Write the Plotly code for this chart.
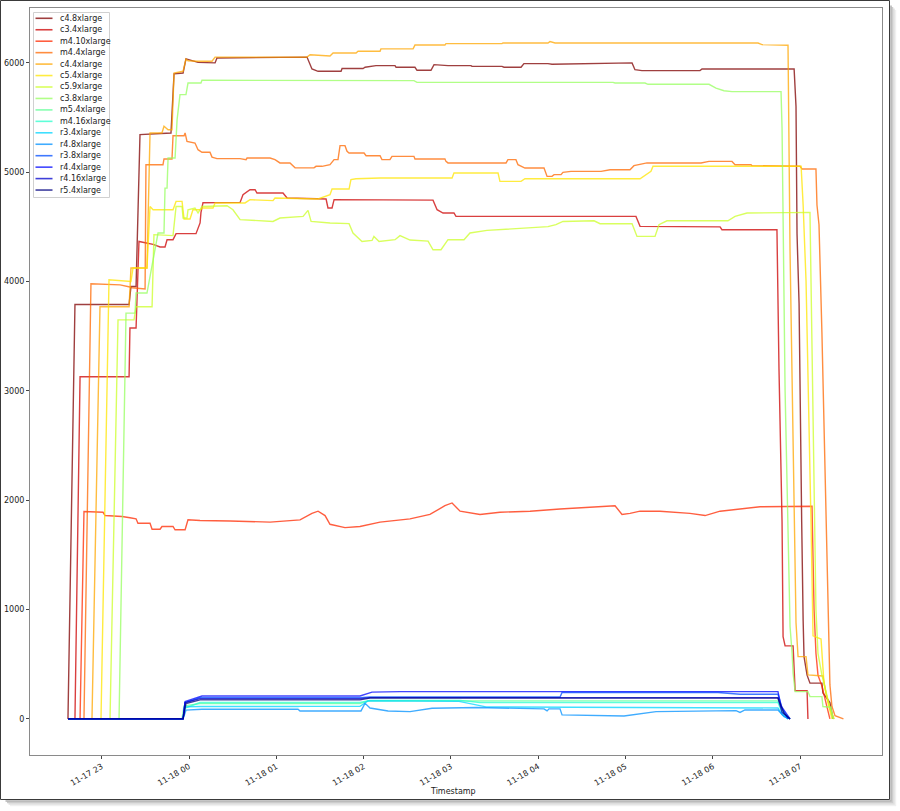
import datetime as dt
import plotly.graph_objects as go

# ---- data: (minutes after 2018-11-18 00:00, value) ----
base = dt.datetime(2018, 11, 18, 0, 0)

names = ["c4.8xlarge", "c3.4xlarge", "m4.10xlarge", "m4.4xlarge", "c4.4xlarge", "c5.4xlarge",
         "c5.9xlarge", "c3.8xlarge", "m5.4xlarge", "m4.16xlarge", "r3.4xlarge", "r4.8xlarge",
         "r3.8xlarge", "r4.4xlarge", "r4.16xlarge", "r5.4xlarge"]

c48 = [(-83.2, 0), (-78.4, 3790), (-41.2, 3790), (-39.9, 3955), (-36.4, 3955), (-33.7, 5344), (-12.4, 5359),
       (-10.3, 5900), (-4.1, 5907), (-2.1, 6036), (6.2, 6005), (17.9, 6000), (19.2, 6045), (81.1, 6053),
       (84.5, 5944), (88.7, 5923), (104.5, 5923), (105.2, 5948), (119.6, 5948), (121.0, 5960), (128.5, 5975),
       (141.6, 5975), (142.3, 5960), (155.3, 5960), (156.7, 5932), (166.3, 5932), (168.4, 5984), (178.0, 5975),
       (193.8, 5975), (194.5, 5968), (215.1, 5968), (216.5, 5960), (228.2, 5960), (230.2, 5993), (246.7, 5993),
       (249.5, 5988), (304.5, 6000), (306.5, 5938), (311.3, 5929), (351.2, 5929), (352.6, 5944), (415.9, 5944),
       (417.2, 5600), (417.9, 4437), (419.3, 3800), (420.0, 2850), (421.1, 1800), (422.1, 900), (422.7, 570),
       (424.8, 400), (426.8, 327), (435.0, 327), (435.7, 238), (440.5, 150), (442.6, 0)]

c34 = [(-83.2, 0), (-78.4, 0), (-74.9, 3130), (-41.2, 3130), (-40.6, 3575), (-36.4, 3575), (-34.4, 4367),
       (-24.7, 4340), (-19.9, 4316), (-16.5, 4316), (-15.1, 4383), (-11.0, 4383), (-8.9, 4438), (4.8, 4438),
       (7.6, 4536), (8.2, 4630), (9.6, 4721), (35.1, 4724), (37.1, 4795), (41.9, 4840), (45.4, 4840),
       (46.7, 4810), (64.6, 4810), (67.4, 4764), (94.2, 4755), (95.5, 4673), (98.3, 4673), (99.7, 4749),
       (167.7, 4745), (170.5, 4657), (174.6, 4627), (182.1, 4627), (183.5, 4596), (307.2, 4596), (310.0, 4505),
       (365.0, 4500), (366.3, 4474), (404.1, 4474), (405.5, 3200), (407.6, 1800), (408.3, 753), (409.7, 668),
       (415.2, 668), (415.9, 387), (416.6, 259), (424.8, 259), (425.4, 0)]

m410 = [(-83.2, 0), (-74.9, 0), (-72.2, 1897), (-59.1, 1890), (-57.7, 1860), (-46.0, 1851), (-40.6, 1840),
        (-36.4, 1830), (-35.1, 1790), (-26.8, 1790), (-25.4, 1735), (-19.9, 1735), (-18.6, 1760), (-11.0, 1760),
        (-9.6, 1730), (-2.7, 1730), (-0.7, 1821), (7.6, 1815), (28.2, 1810), (55.7, 1800), (76.3, 1820),
        (84.5, 1880), (88.7, 1900), (93.5, 1860), (96.9, 1780), (107.2, 1750), (117.5, 1760), (131.3, 1800),
        (151.9, 1830), (165.6, 1870), (175.9, 1950), (180.8, 1975), (186.3, 1900), (200.0, 1870), (213.7, 1890),
        (234.4, 1900), (255.0, 1920), (282.5, 1940), (292.8, 1950), (297.6, 1870), (303.1, 1880), (310.0, 1900),
        (323.7, 1900), (344.3, 1880), (354.7, 1860), (365.0, 1900), (378.7, 1920), (392.5, 1940), (428.2, 1945),
        (429.6, 1000), (430.9, 600), (432.3, 400), (435.0, 300), (437.8, 150), (440.5, 0)]

m44 = [(-83.2, 0), (-72.2, 0), (-67.4, 3980), (-47.4, 3970), (-40.6, 3950), (-39.2, 3944), (-30.2, 3932),
       (-29.6, 5069), (-17.9, 5069), (-17.2, 5121), (-11.7, 5121), (-11.0, 5334), (-3.4, 5334), (-2.7, 5359),
       (-1.4, 5282), (4.1, 5267), (6.2, 5206), (8.9, 5183), (14.4, 5183), (15.8, 5138), (19.2, 5124),
       (35.1, 5124), (39.2, 5115), (39.9, 5130), (55.7, 5130), (59.1, 5115), (62.5, 5085), (69.4, 5085),
       (72.9, 5040), (85.9, 5040), (87.3, 5054), (91.4, 5054), (96.9, 5069), (99.7, 5115), (102.4, 5115),
       (103.8, 5243), (107.2, 5243), (108.6, 5191), (110.0, 5176), (120.3, 5176), (121.7, 5151), (131.3, 5151),
       (132.6, 5115), (138.1, 5115), (139.5, 5145), (154.6, 5145), (155.3, 5121), (175.9, 5121), (176.6, 5099),
       (178.0, 5085), (217.9, 5085), (219.2, 5115), (224.7, 5115), (226.1, 5069), (230.9, 5038), (244.0, 5038),
       (246.1, 4962), (249.5, 4962), (250.9, 4978), (255.7, 4978), (257.0, 4999), (262.5, 5008), (283.2, 5008),
       (289.4, 5023), (303.1, 5023), (305.8, 5060), (314.8, 5085), (351.9, 5085), (357.4, 5099), (373.2, 5099),
       (375.3, 5069), (386.3, 5069), (386.9, 5060), (399.3, 5060), (402.0, 5054), (420.0, 5054), (421.4, 5029),
       (430.9, 5029), (431.6, 4700), (433.0, 4520), (435.0, 3536), (437.1, 2315), (439.1, 1290), (439.8, 600),
       (440.5, 311), (441.9, 113), (444.0, 30), (449.8, 0)]

c44 = [(-83.2, 0), (-66.7, 0), (-61.2, 3770), (-41.2, 3770), (-39.9, 4124), (-28.9, 4124), (-26.8, 5359),
       (-18.6, 5359), (-17.2, 5420), (-14.4, 5389), (-11.7, 5389), (-10.3, 5907), (-4.1, 5923), (-2.1, 6036),
       (-0.7, 6020), (5.5, 6015), (15.8, 6015), (17.9, 6053), (81.1, 6053), (83.2, 6075), (96.9, 6063),
       (99.0, 6090), (114.8, 6090), (116.2, 6106), (131.3, 6106), (131.9, 6128), (154.0, 6128), (155.3, 6163),
       (175.9, 6163), (176.6, 6176), (215.1, 6176), (215.8, 6182), (246.7, 6182), (248.1, 6195), (251.6, 6182),
       (291.4, 6182), (292.8, 6188), (310.0, 6188), (311.3, 6182), (391.1, 6182), (393.8, 6167), (404.1, 6167),
       (405.5, 6161), (411.7, 6161), (413.1, 4273), (414.5, 3000), (415.9, 1820), (417.2, 880), (418.6, 570),
       (424.1, 570), (425.4, 403), (435.7, 393), (437.8, 235), (440.5, 100), (443.3, 0)]

c54 = [(-83.2, 0), (-60.5, 0), (-55.0, 4017), (-39.9, 4000), (-38.5, 4124), (-28.9, 4124), (-26.8, 4687),
       (-24.7, 4657), (-11.0, 4657), (-8.9, 4733), (-4.8, 4733), (-3.4, 4572), (0.7, 4572), (2.7, 4657),
       (7.6, 4657), (9.6, 4673), (16.5, 4673), (17.9, 4719), (38.5, 4719), (41.9, 4749), (57.7, 4740),
       (59.1, 4764), (88.7, 4755), (96.9, 4795), (98.3, 4846), (110.0, 4846), (111.3, 4932), (114.8, 4940),
       (131.3, 4947), (180.8, 4947), (182.1, 4993), (212.4, 4993), (213.7, 4916), (228.2, 4916), (230.9, 4940),
       (310.0, 4940), (317.5, 5008), (318.9, 5054), (420.7, 5054), (422.1, 4700), (424.1, 4000), (426.1, 2800),
       (427.5, 1800), (428.9, 760), (434.4, 730), (436.4, 330), (439.1, 150), (441.9, 0)]

c59 = [(-83.2, 0), (-54.3, 0), (-48.8, 3650), (-37.8, 3650), (-36.4, 3770), (-25.4, 3770), (-24.1, 4429),
       (-11.0, 4420), (-8.9, 4687), (-4.8, 4687), (-4.1, 4581), (-1.4, 4581), (-0.7, 4657), (4.1, 4673),
       (6.2, 4627), (8.9, 4687), (26.1, 4694), (30.2, 4657), (35.1, 4566), (57.7, 4550), (62.5, 4581),
       (78.4, 4596), (81.8, 4651), (83.9, 4550), (96.9, 4536), (110.0, 4530), (112.7, 4444), (118.9, 4367),
       (125.8, 4376), (127.1, 4413), (130.6, 4367), (141.6, 4383), (145.0, 4420), (151.9, 4380), (164.3, 4370),
       (167.7, 4291), (173.2, 4291), (178.0, 4383), (189.0, 4383), (193.1, 4444), (204.8, 4468), (215.1, 4477),
       (220.6, 4483), (246.7, 4502), (252.2, 4520), (257.0, 4550), (278.4, 4556), (282.5, 4529), (304.5, 4529),
       (307.9, 4413), (320.3, 4413), (323.0, 4520), (328.5, 4556), (370.4, 4556), (375.3, 4596), (383.5, 4627),
       (426.8, 4633), (428.2, 3500), (429.6, 2000), (430.9, 1000), (432.3, 600), (435.0, 400), (437.8, 250),
       (440.5, 100), (443.3, 0)]

c38 = [(-83.2, 0), (-48.1, 0), (-43.3, 3711), (-37.1, 3711), (-36.4, 3895), (-28.9, 3895), (-21.3, 4444),
       (-17.2, 4444), (-16.5, 4855), (-15.1, 4855), (-14.4, 5130), (-9.6, 5130), (-8.2, 5481), (-6.2, 5710),
       (-2.1, 5710), (-0.7, 5816), (8.2, 5816), (8.9, 5841), (154.6, 5838), (156.7, 5822), (291.4, 5822),
       (292.8, 5816), (313.4, 5816), (315.5, 5804), (357.4, 5804), (362.2, 5770), (367.7, 5745), (373.2, 5737),
       (406.9, 5737), (407.6, 5400), (409.7, 3000), (411.7, 1800), (413.1, 845), (414.5, 600), (415.2, 418),
       (416.6, 250), (425.4, 250), (426.8, 204), (435.0, 204), (435.7, 113), (441.2, 107), (442.6, 0)]

m54 = [(-83.2, 0), (-4.8, 0), (-3.4, 120), (7.6, 140), (117.5, 140), (123.0, 165), (404.8, 165),
       (407.6, 80), (413.1, 0)]
m416 = [(-83.2, 0), (-4.1, 0), (-2.7, 100), (7.6, 150), (117.5, 150), (124.4, 170), (186.3, 170),
        (200.0, 150), (404.8, 150), (407.6, 60), (411.7, 0)]
r34 = [(-83.2, 0), (-4.1, 0), (-2.7, 110), (7.6, 113), (74.9, 113), (76.3, 115), (117.5, 115), (123.0, 165),
       (185.6, 160), (204.1, 110), (404.8, 100), (407.6, 40), (411.7, 0)]
r48 = [(-83.2, 0), (-4.1, 0), (-2.1, 80), (8.9, 89), (74.9, 89), (76.3, 73), (118.2, 73), (121.0, 143),
       (124.4, 100), (136.8, 73), (151.9, 67), (167.0, 98), (197.9, 104), (244.0, 92), (246.1, 73), (247.4, 92),
       (255.0, 92), (256.4, 37), (299.0, 27), (321.0, 67), (376.0, 76), (378.7, 60), (382.1, 82), (404.8, 82),
       (409.0, 20), (413.1, 0)]
r38 = [(-83.2, 0), (-4.1, 0), (-2.7, 150), (7.6, 195), (117.5, 195), (124.4, 200), (255.0, 200), (256.4, 241),
       (363.6, 241), (378.7, 226), (404.8, 226), (407.6, 100), (411.7, 0)]
r44 = [(-83.2, 0), (-4.1, 0), (-2.7, 160), (8.9, 210), (117.5, 210), (125.8, 245), (145.0, 250), (404.8, 250),
       (406.9, 120), (413.1, 0)]
r416 = [(-83.2, 0), (-4.1, 0), (-2.7, 150), (7.6, 185), (117.5, 185), (124.4, 195), (404.8, 195), (407.6, 60),
        (413.1, 0)]
r54 = [(-83.2, 0), (-4.1, 0), (-2.1, 140), (7.6, 174), (117.5, 174), (124.4, 190), (404.8, 190), (409.0, 50),
       (413.1, 0)]

series = [c48, c34, m410, m44, c44, c54, c59, c38, m54, m416, r34, r48, r38, r44, r416, r54]

# jet colormap sampled from top (dark red) to bottom (navy)
colors = ["#800000", "#cd0000", "#ff2900", "#ff6800", "#ffa700", "#ffe600", "#cdff29", "#97ff60",
          "#60ff97", "#29ffcd", "#00d5ff", "#0091ff", "#004dff", "#0008ff", "#0000cd", "#000080"]

yticks = [0, 1000, 2000, 3000, 4000, 5000, 6000]

FONT = "DejaVu Sans"
fig = go.Figure()
for name, pts, col in zip(names, series, colors):
    t = [base + dt.timedelta(minutes=p[0]) for p in pts]
    v = [p[1] for p in pts]
    fig.add_trace(go.Scatter(x=t, y=v, mode="lines", name=name,
                             line=dict(color=col, width=1.4), opacity=0.75, showlegend=False))

# plot area in pixels: x 30..882, y 8..755
W, H = 900, 811
L, R, T, B = 30, 18, 8, 56
pw, ph = W - L - R, H - T - B


def px(x):
    return (x - L) / pw


def py(y):
    return (H - B - y) / ph


shapes = []
ann = []
# custom legend
shapes.append(dict(type="rect", xref="paper", yref="paper", x0=px(33.5), x1=px(109.5), y0=py(197.5), y1=py(12.5),
                   line=dict(color="#d0d0d0", width=1), fillcolor="rgba(255,255,255,0.85)", layer="above"))
for i, (name, col) in enumerate(zip(names, colors)):
    yy = 18.3 + 11.45 * i
    shapes.append(dict(type="line", xref="paper", yref="paper", x0=px(35.5), x1=px(52.5), y0=py(yy), y1=py(yy),
                       line=dict(color=col, width=1.6), opacity=0.75, layer="above"))
    ann.append(dict(xref="paper", yref="paper", x=px(57.5), y=py(yy), text=name, showarrow=False,
                    xanchor="left", yanchor="middle", font=dict(family=FONT, size=8, color="#222")))

# x axis title
ann.append(dict(xref="paper", yref="paper", x=px(453), y=py(791), text="Timestamp", showarrow=False,
                xanchor="center", yanchor="middle", font=dict(family=FONT, size=8, color="#222")))

# outer screenshot frame with shadow
for k, a in enumerate([0.30, 0.20, 0.12, 0.06]):
    off = 1.5 + k * 1.5
    shapes.append(dict(type="path", xref="paper", yref="paper",
                       path=f"M {px(889.5 + off)},{py(4 + off)} L {px(889.5 + off)},{py(799.5 + off)} L {px(4 + off)},{py(799.5 + off)}",
                       line=dict(color=f"rgba(0,0,0,{a})", width=1.5)))
shapes.append(dict(type="rect", xref="paper", yref="paper", x0=px(0.5), x1=px(889.5), y0=py(799.5), y1=py(0.5),
                   line=dict(color="#3a3a3a", width=1)))

fig.update_layout(
    width=W, height=H, margin=dict(l=L, r=R, t=T, b=B, autoexpand=False),
    paper_bgcolor="white", plot_bgcolor="white",
    showlegend=False, shapes=shapes, annotations=ann,
    font=dict(family=FONT, size=8, color="#222"),
    xaxis=dict(type="date", range=[base + dt.timedelta(minutes=-109.3), base + dt.timedelta(minutes=476.3)],
               tickformat="%m-%d %H", dtick=3600000, tick0="2018-11-18 00:00", tickangle=-30, automargin=False,
               ticks="outside", ticklen=3, tickcolor="#444", showline=True, linecolor="#8a8a8a", linewidth=1,
               mirror=True, showgrid=False, zeroline=False, tickfont=dict(family=FONT, size=8, color="#222")),
    yaxis=dict(range=[-330, 6502], tickvals=yticks, ticktext=[str(v) for v in yticks], automargin=False,
               ticks="outside", ticklen=3, tickcolor="#444", showline=True, linecolor="#8a8a8a", linewidth=1,
               mirror=True, showgrid=False, zeroline=False, tickfont=dict(family=FONT, size=8, color="#222")),
)

fig.write_html("out.html", config={"displayModeBar": False},
               post_script="document.body.style.margin='0px';document.body.style.overflow='hidden';")
